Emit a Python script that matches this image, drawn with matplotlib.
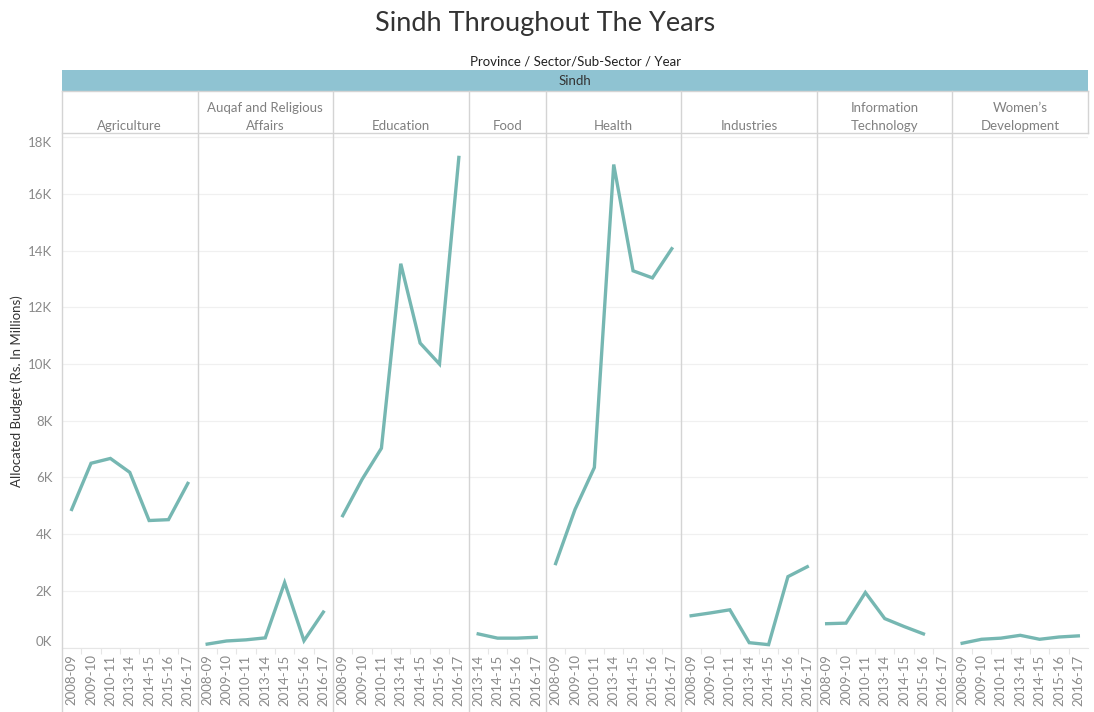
import matplotlib
matplotlib.use("Agg")
import matplotlib.pyplot as plt
from matplotlib.patches import Rectangle
from matplotlib.lines import Line2D

plt.rcParams['font.family'] = ['Lato', 'DejaVu Sans']

# ---------------- data ----------------
years_all = ["2008-09", "2009-10", "2010-11", "2013-14", "2014-15", "2015-16", "2016-17"]
years_food = ["2013-14", "2014-15", "2015-16", "2016-17"]

sectors = ["Agriculture", "Auqaf and Religious\nAffairs", "Education", "Food", "Health",
           "Industries", "Information\nTechnology", "Women\u2019s\nDevelopment"]

agriculture = [4870, 6500, 6670, 6180, 4480, 4510, 5790]
auqaf = [120, 230, 270, 340, 2290, 240, 1250]
education = [4650, 5930, 7030, 13540, 10740, 10000, 17290]
food = [480, 330, 330, 360]
health = [2960, 4870, 6350, 17040, 13290, 13040, 14070]
industries = [1120, 1220, 1330, 170, 100, 2500, 2850]
info_tech = [840, 860, 1940, 1020, 740, 480, None]
womens_dev = [150, 290, 330, 430, 290, 370, 410]

series = [agriculture, auqaf, education, food, health, industries, info_tech, womens_dev]
xcats = [years_all, years_all, years_all, years_food, years_all, years_all, years_all, years_all]

y_ticks = [0, 2000, 4000, 6000, 8000, 10000, 12000, 14000, 16000, 18000]
y_tick_labels = ["0K", "2K", "4K", "6K", "8K", "10K", "12K", "14K", "16K", "18K"]

# ---------------- layout ----------------
W, H = 1094, 712
fig = plt.figure(figsize=(W / 100, H / 100), dpi=100)
fig.patch.set_facecolor("white")

def fx(x):
    return x / W

def fy(y):
    return 1 - y / H

LINE_C = "#76B7B2"
SEP_C = "#d4d4d4"
GRID_C = "#f0f0f0"
TXT_C = "#8a8a8a"

left_px, right_px = 62, 1088
plot_top, plot_bot = 133.3, 647.5
total = sum(len(c) for c in xcats)
unit = (right_px - left_px) / total

ymax = (plot_bot - plot_top) / ((plot_bot - 137.3) / 18000)

# title
fig.text(fx(545), fy(24), "Sindh Throughout The Years", ha="center", va="center",
         fontsize=19.5, color="#333333")
fig.text(fx(575), fy(61), "Province / Sector/Sub-Sector / Year", ha="center", va="center",
         fontsize=9.5, color="#222222")

# Sindh bar
fig.patches.append(Rectangle((fx(left_px), fy(91)), fx(right_px) - fx(left_px), fy(70) - fy(91),
                             transform=fig.transFigure, facecolor="#8FC3D2", edgecolor="none"))
fig.text(fx(575), fy(81), "Sindh", ha="center", va="center", fontsize=9.5, color="#333333")

# header cell borders
for yy in (91, 133.3):
    fig.lines.append(Line2D([fx(left_px), fx(right_px)], [fy(yy), fy(yy)],
                            transform=fig.transFigure, color=SEP_C, lw=1))

x = left_px
bounds = []
for i, (vals, cats) in enumerate(zip(series, xcats)):
    n = len(cats)
    w = n * unit
    bounds.append((x, x + w))
    ax = fig.add_axes([fx(x), fy(plot_bot), w / W, (plot_bot - plot_top) / H])
    xs = [j for j, v in enumerate(vals) if v is not None]
    ys = [v for v in vals if v is not None]
    ax.plot(xs, ys, color=LINE_C, lw=2.4, solid_joinstyle="miter", zorder=3)
    ax.set_xlim(-0.5, n - 0.5)
    ax.set_ylim(0, ymax)
    ax.set_xticks(range(n))
    ax.set_xticklabels(cats, rotation=90, fontsize=9.5, color=TXT_C)
    ax.tick_params(axis="x", length=0, pad=5)
    ax.set_xticks([j + 0.5 for j in range(n - 1)], minor=True)
    ax.tick_params(axis="x", which="minor", length=4, color="#e6e6e6", width=0.8)
    ax.set_yticks(y_ticks)
    ax.grid(axis="y", color=GRID_C, lw=0.9)
    ax.set_axisbelow(True)
    for s in ("top", "right", "left"):
        ax.spines[s].set_visible(False)
    ax.spines["bottom"].set_color("#e6e6e6")
    ax.spines["bottom"].set_linestyle((0, (1, 1)))
    if i == 0:
        ax.set_yticklabels(y_tick_labels, fontsize=9.5, color=TXT_C)
        ax.tick_params(axis="y", length=0, pad=7)
        tl = ax.get_yticklabels()
        tl[0].set_verticalalignment("bottom")
        tl[-1].set_verticalalignment("top")
    else:
        ax.tick_params(axis="y", length=0, labelleft=False)
    # header label
    fig.text(fx(x + w / 2), fy(129.5), sectors[i], ha="center", va="baseline",
             fontsize=9.5, color="#808080", linespacing=1.6)
    x += w

# vertical separators
for k, (a, b) in enumerate(bounds):
    fig.lines.append(Line2D([fx(a), fx(a)], [fy(91), fy(712)],
                            transform=fig.transFigure, color=SEP_C, lw=1))
fig.lines.append(Line2D([fx(right_px), fx(right_px)], [fy(91), fy(plot_top)],
                        transform=fig.transFigure, color=SEP_C, lw=1))

fig.text(fx(17), fy(391), "Allocated Budget (Rs. In Millions)", rotation=90,
         ha="center", va="center", fontsize=9.5, color="#333333")

fig.savefig("out.png", dpi=100, facecolor="white")
